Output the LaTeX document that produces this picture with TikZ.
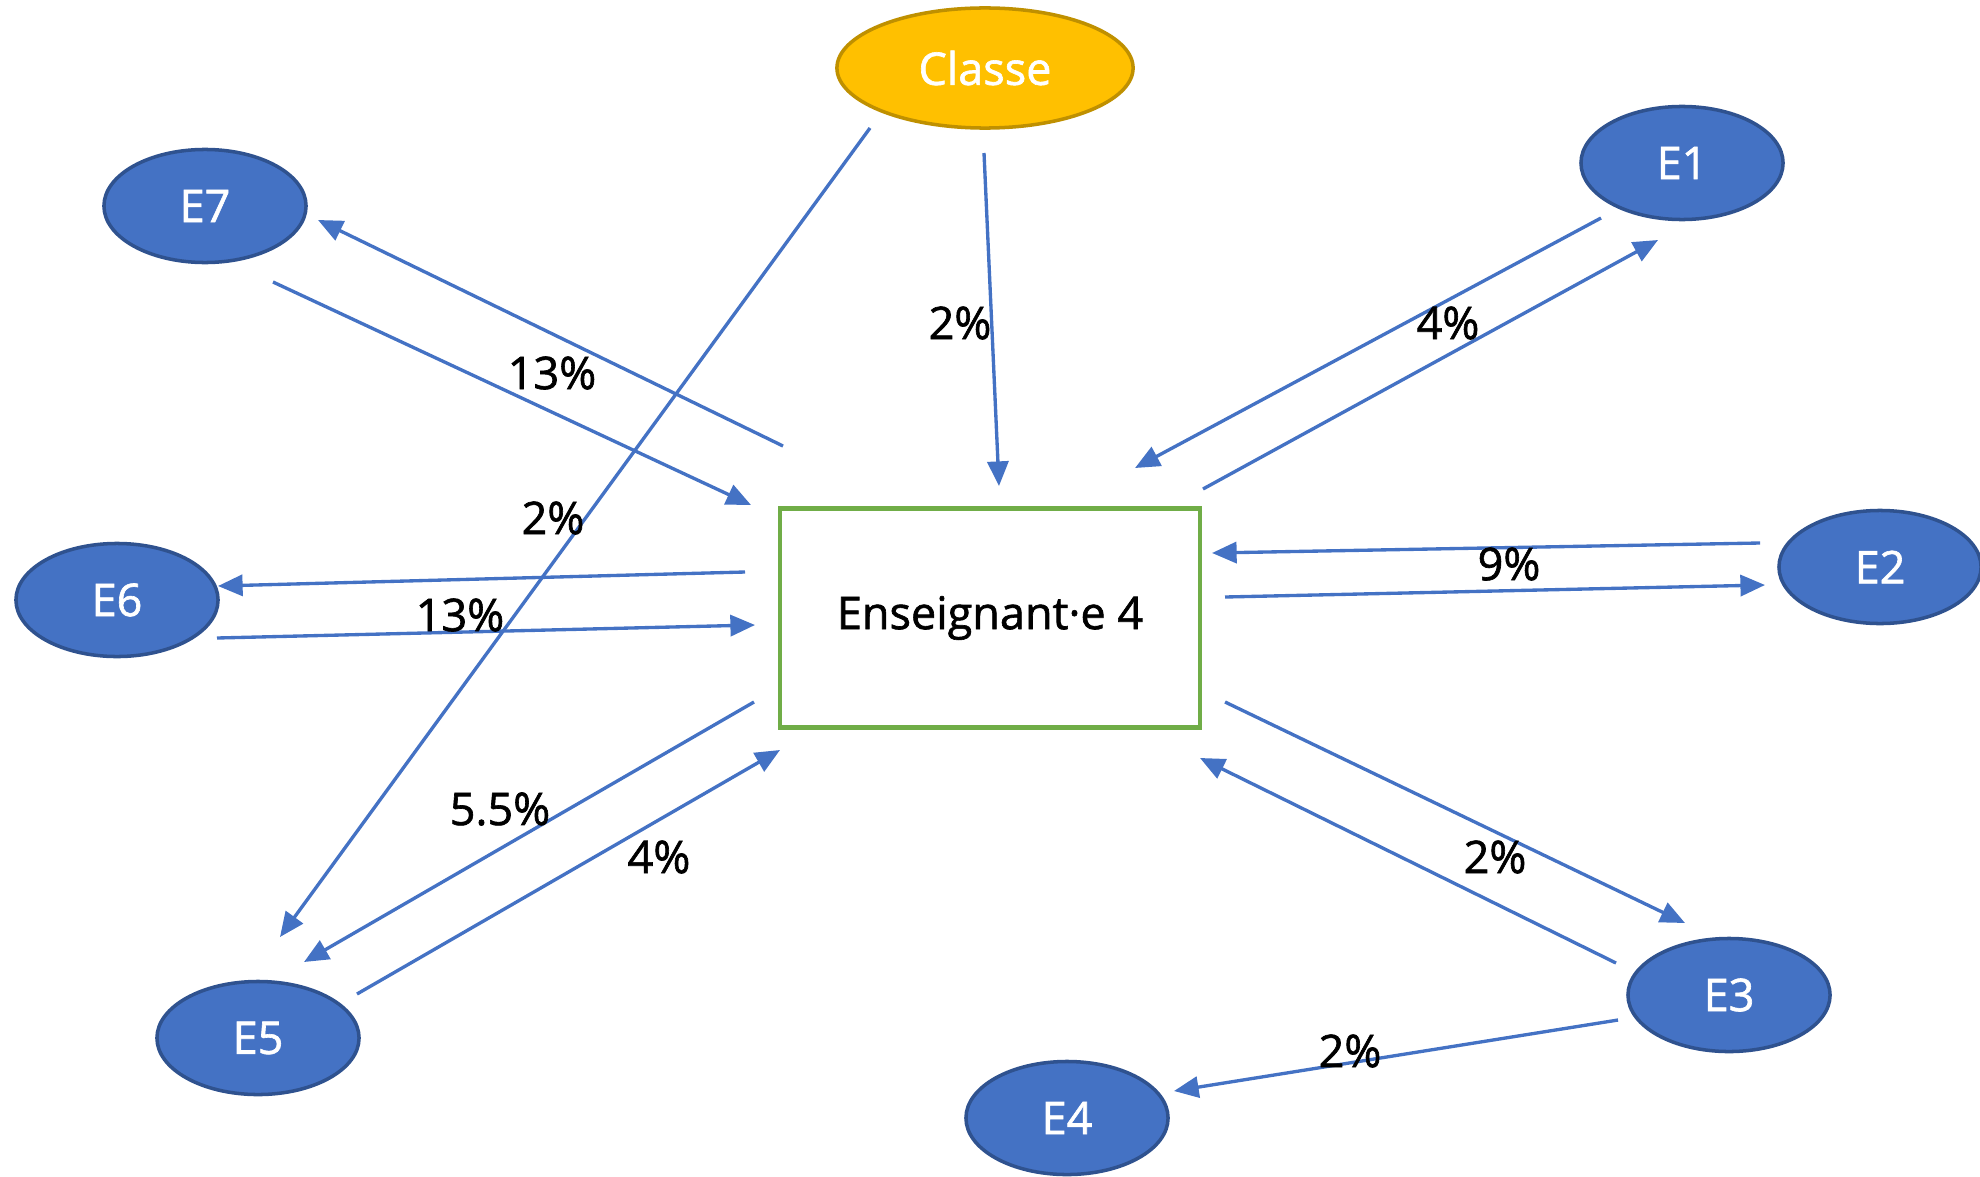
\documentclass[tikz,border=0pt]{standalone}
\usepackage{fontspec}
\setmainfont{Open Sans}[FakeBold=1.4]
\usetikzlibrary{arrows.meta,shapes}

\definecolor{eblue}{HTML}{4472C4}
\definecolor{eborder}{HTML}{2F528F}
\definecolor{gold}{HTML}{FFC000}
\definecolor{goldborder}{HTML}{BF9000}
\definecolor{boxgreen}{HTML}{70AD47}

\tikzset{
  eleve/.style={ellipse,fill=eblue,draw=eborder,line width=1pt,text=white,
                minimum width=2.02cm,minimum height=1.13cm,inner sep=0pt},
  classe/.style={ellipse,fill=gold,draw=goldborder,line width=1pt,text=white,
                 minimum width=2.96cm,minimum height=1.2cm,inner sep=0pt},
  prof/.style={rectangle,draw=boxgreen,line width=1.2pt,fill=white,
               minimum width=4.2cm,minimum height=2.19cm,inner sep=0pt},
  arr/.style={draw=eblue,line width=0.95pt,-{Triangle[length=7pt,width=6pt]}},
  pct/.style={inner sep=0pt}
}

\begin{document}
\begin{tikzpicture}[x=0.01cm,y=-0.01cm,font=\fontsize{12.8}{15}\selectfont]
  \useasboundingbox (0,0) rectangle (1980,1176);
  % First we draw the vertices
  \node[classe] (classe) at (985,68) {Classe};
  \node[prof] (ens) at (990,618) {Enseignant·e 4};
  \foreach \pos/\name in {{(1682,163)/E1}, {(1880,567)/E2}, {(1729,995)/E3},
                          {(1067,1118)/E4}, {(258,1038)/E5}, {(117,600)/E6}, {(205,206)/E7}}
    \node[eleve] (\name) at \pos {\name};
  % ends of the arrows
  \coordinate (a7) at (783,446);   \coordinate (b7) at (318,220);
  \coordinate (c7) at (273,282);   \coordinate (d7) at (751,505);
  \coordinate (a6) at (745,572);   \coordinate (b6) at (218,586);
  \coordinate (c6) at (217,638);   \coordinate (d6) at (755,625);
  \coordinate (a5) at (754,702);   \coordinate (b5) at (304,962);
  \coordinate (c5) at (357,994);   \coordinate (d5) at (780,750);
  \coordinate (ck) at (870,128);   \coordinate (ce) at (280,937);
  \coordinate (cp) at (984,153);   \coordinate (cq) at (999,486);
  \coordinate (a1) at (1601,218);  \coordinate (b1) at (1135,468);
  \coordinate (c1) at (1203,489);  \coordinate (d1) at (1658,240);
  \coordinate (a2) at (1760,543);  \coordinate (b2) at (1212,553);
  \coordinate (c2) at (1225,597);  \coordinate (d2) at (1765,585);
  \coordinate (a3) at (1225,702);  \coordinate (b3) at (1685,923);
  \coordinate (c3) at (1616,963);  \coordinate (d3) at (1200,758);
  \coordinate (a4) at (1618,1020); \coordinate (b4) at (1174,1091);
  % Then the arrows
  \draw[arr] (a7) -- (b7);
  \draw[arr] (c7) -- (d7);
  \draw[arr] (a6) -- (b6);
  \draw[arr] (c6) -- (d6);
  \draw[arr] (a5) -- (b5);
  \draw[arr] (c5) -- (d5);
  \draw[arr] (ck) -- (ce);
  \draw[arr] (cp) -- (cq);
  \draw[arr] (a1) -- (b1);
  \draw[arr] (c1) -- (d1);
  \draw[arr] (a2) -- (b2);
  \draw[arr] (c2) -- (d2);
  \draw[arr] (a3) -- (b3);
  \draw[arr] (c3) -- (d3);
  \draw[arr] (a4) -- (b4);
  % and the shares
  \node[pct] (p7) at (552,373) {13\%};
  \node[pct] (p6) at (460,615) {13\%};
  \node[pct] (p5a) at (500,809) {5.5\%};
  \node[pct] (p5b) at (659,857) {4\%};
  \node[pct] (pk) at (553,518) {2\%};
  \node[pct] (pe) at (960,323) {2\%};
  \node[pct] (p1) at (1448,323) {4\%};
  \node[pct] (p2) at (1509,564) {9\%};
  \node[pct] (p3) at (1495,857) {2\%};
  \node[pct] (p4) at (1350,1051) {2\%};
\end{tikzpicture}
\end{document}
